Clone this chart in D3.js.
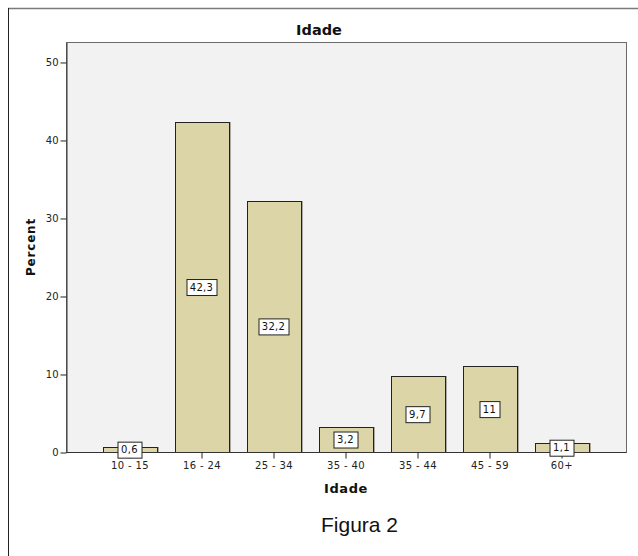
<!DOCTYPE html>
<html>
<head>
<meta charset="utf-8">
<script src="https://cdn.jsdelivr.net/npm/d3@7"></script>
<style>
  html, body { margin: 0; padding: 0; background: #ffffff; }
  svg { display: block; }
</style>
</head>
<body>
<svg id="chart" width="638" height="556"></svg>
<script>
// Age distribution (percent of respondents)
const categories = ["10 - 15", "16 - 24", "25 - 34", "35 - 40", "35 - 44", "45 - 59", "60+"];
const percents = [0.6, 42.3, 32.2, 3.2, 9.7, 11, 1.1];
const valueLabels = ["0,6", "42,3", "32,2", "3,2", "9,7", "11", "1,1"];
const yTicks = [0, 10, 20, 30, 40, 50];

const chartTitle = "Idade";
const xTitle = "Idade";
const yTitle = "Percent";
const caption = "Figura 2";

const svg = d3.select("#chart");
const font = "'DejaVu Sans', sans-serif";

// Outer frame (top and left edges)
svg.append("line").attr("x1", 8).attr("x2", 638).attr("y1", 8.5).attr("y2", 8.5)
  .attr("stroke", "#7a7a7a").attr("stroke-width", 1.5);
svg.append("line").attr("x1", 8.5).attr("x2", 8.5).attr("y1", 8).attr("y2", 556)
  .attr("stroke", "#222").attr("stroke-width", 1);

// Plot area
const plot = { left: 66, top: 42, right: 626, bottom: 452 };

const y = d3.scaleLinear()
  .domain([0, 52.56])
  .range([plot.bottom, plot.top]);

const x = d3.scaleBand()
  .domain(categories)
  .range([93.5, 597.5])
  .paddingInner(0.25)
  .paddingOuter(0.125);

svg.append("rect")
  .attr("x", plot.left + 0.5).attr("y", plot.top + 0.5)
  .attr("width", plot.right - plot.left).attr("height", plot.bottom - plot.top)
  .attr("fill", "#f2f2f2").attr("stroke", "#6a6a6a").attr("stroke-width", 1);

const data = categories.map((c, i) => ({ cat: c, value: percents[i], label: valueLabels[i] }));

// Bar shadows
svg.append("g").selectAll("rect").data(data).join("rect")
  .attr("x", d => Math.round(x(d.cat)) + 1.5)
  .attr("y", d => Math.round(y(d.value)) + 0.5)
  .attr("width", x.bandwidth())
  .attr("height", d => plot.bottom - Math.round(y(d.value)))
  .attr("fill", "none").attr("stroke", "#a8a8a8").attr("stroke-width", 1);

// Bars
svg.append("g").selectAll("rect").data(data).join("rect")
  .attr("x", d => Math.round(x(d.cat)) + 0.5)
  .attr("y", d => Math.round(y(d.value)) + 0.5)
  .attr("width", x.bandwidth())
  .attr("height", d => plot.bottom - Math.round(y(d.value)))
  .attr("fill", "#dbd5a7").attr("stroke", "#222").attr("stroke-width", 1);

// Y axis
const yAxis = d3.axisLeft(y).tickValues(yTicks).tickSize(6).tickSizeOuter(0)
  .tickPadding(2).tickFormat(d3.format("d"));
const yg = svg.append("g").attr("transform", `translate(${plot.left + 0.5},0.5)`).call(yAxis);
yg.select(".domain").attr("stroke", "#333");
yg.selectAll(".tick line").attr("stroke", "#222");
yg.selectAll(".tick text").attr("font-family", font).attr("font-size", 10).attr("fill", "#222");

// X axis
const xAxis = d3.axisBottom(x).tickSize(6).tickSizeOuter(0).tickPadding(3);
const xg = svg.append("g").attr("transform", `translate(0.5,${plot.bottom + 0.5})`).call(xAxis);
xg.select(".domain").attr("d", `M${plot.left},0H${plot.right}`).attr("stroke", "#333");
xg.selectAll(".tick line").attr("stroke", "#222");
xg.selectAll(".tick text").attr("font-family", font).attr("font-size", 10)
  .attr("letter-spacing", 0.4).attr("fill", "#222");

// Value labels in boxes at bar mid-height
const lg = svg.append("g");
data.forEach(d => {
  const cx = x(d.cat) + x.bandwidth() / 2;
  const cy = y(d.value / 2);
  const g = lg.append("g").attr("transform", `translate(${cx},${cy})`);
  const t = g.append("text")
    .attr("text-anchor", "middle").attr("dy", "0.36em")
    .attr("font-family", font).attr("font-size", 10).attr("letter-spacing", 0.3)
    .attr("fill", "#111").text(d.label);
  const w = t.node().getComputedTextLength() + 7;
  g.insert("rect", "text")
    .attr("x", Math.round(-w / 2) + 0.5).attr("y", -7.5)
    .attr("width", Math.round(w)).attr("height", 16)
    .attr("fill", "#fff").attr("stroke", "#222").attr("stroke-width", 1);
});

// Titles
svg.append("text").attr("x", 319).attr("y", 35).attr("text-anchor", "middle")
  .attr("font-family", font).attr("font-weight", "bold").attr("font-size", 14.5)
  .attr("fill", "#111").text(chartTitle);

svg.append("text").attr("x", (plot.left + plot.right) / 2).attr("y", 493).attr("text-anchor", "middle")
  .attr("font-family", font).attr("font-weight", "bold").attr("font-size", 13)
  .attr("letter-spacing", 0.6).attr("fill", "#111").text(xTitle);

svg.append("text").attr("transform", `translate(35,${(plot.top + plot.bottom) / 2}) rotate(-90)`)
  .attr("text-anchor", "middle")
  .attr("font-family", font).attr("font-weight", "bold").attr("font-size", 12)
  .attr("letter-spacing", 0.8).attr("fill", "#111").text(yTitle);

// Caption
svg.append("text").attr("x", 321).attr("y", 532)
  .attr("font-family", "'Liberation Sans', Arial, sans-serif").attr("font-size", 21)
  .attr("fill", "#111").text(caption);
</script>
</body>
</html>
